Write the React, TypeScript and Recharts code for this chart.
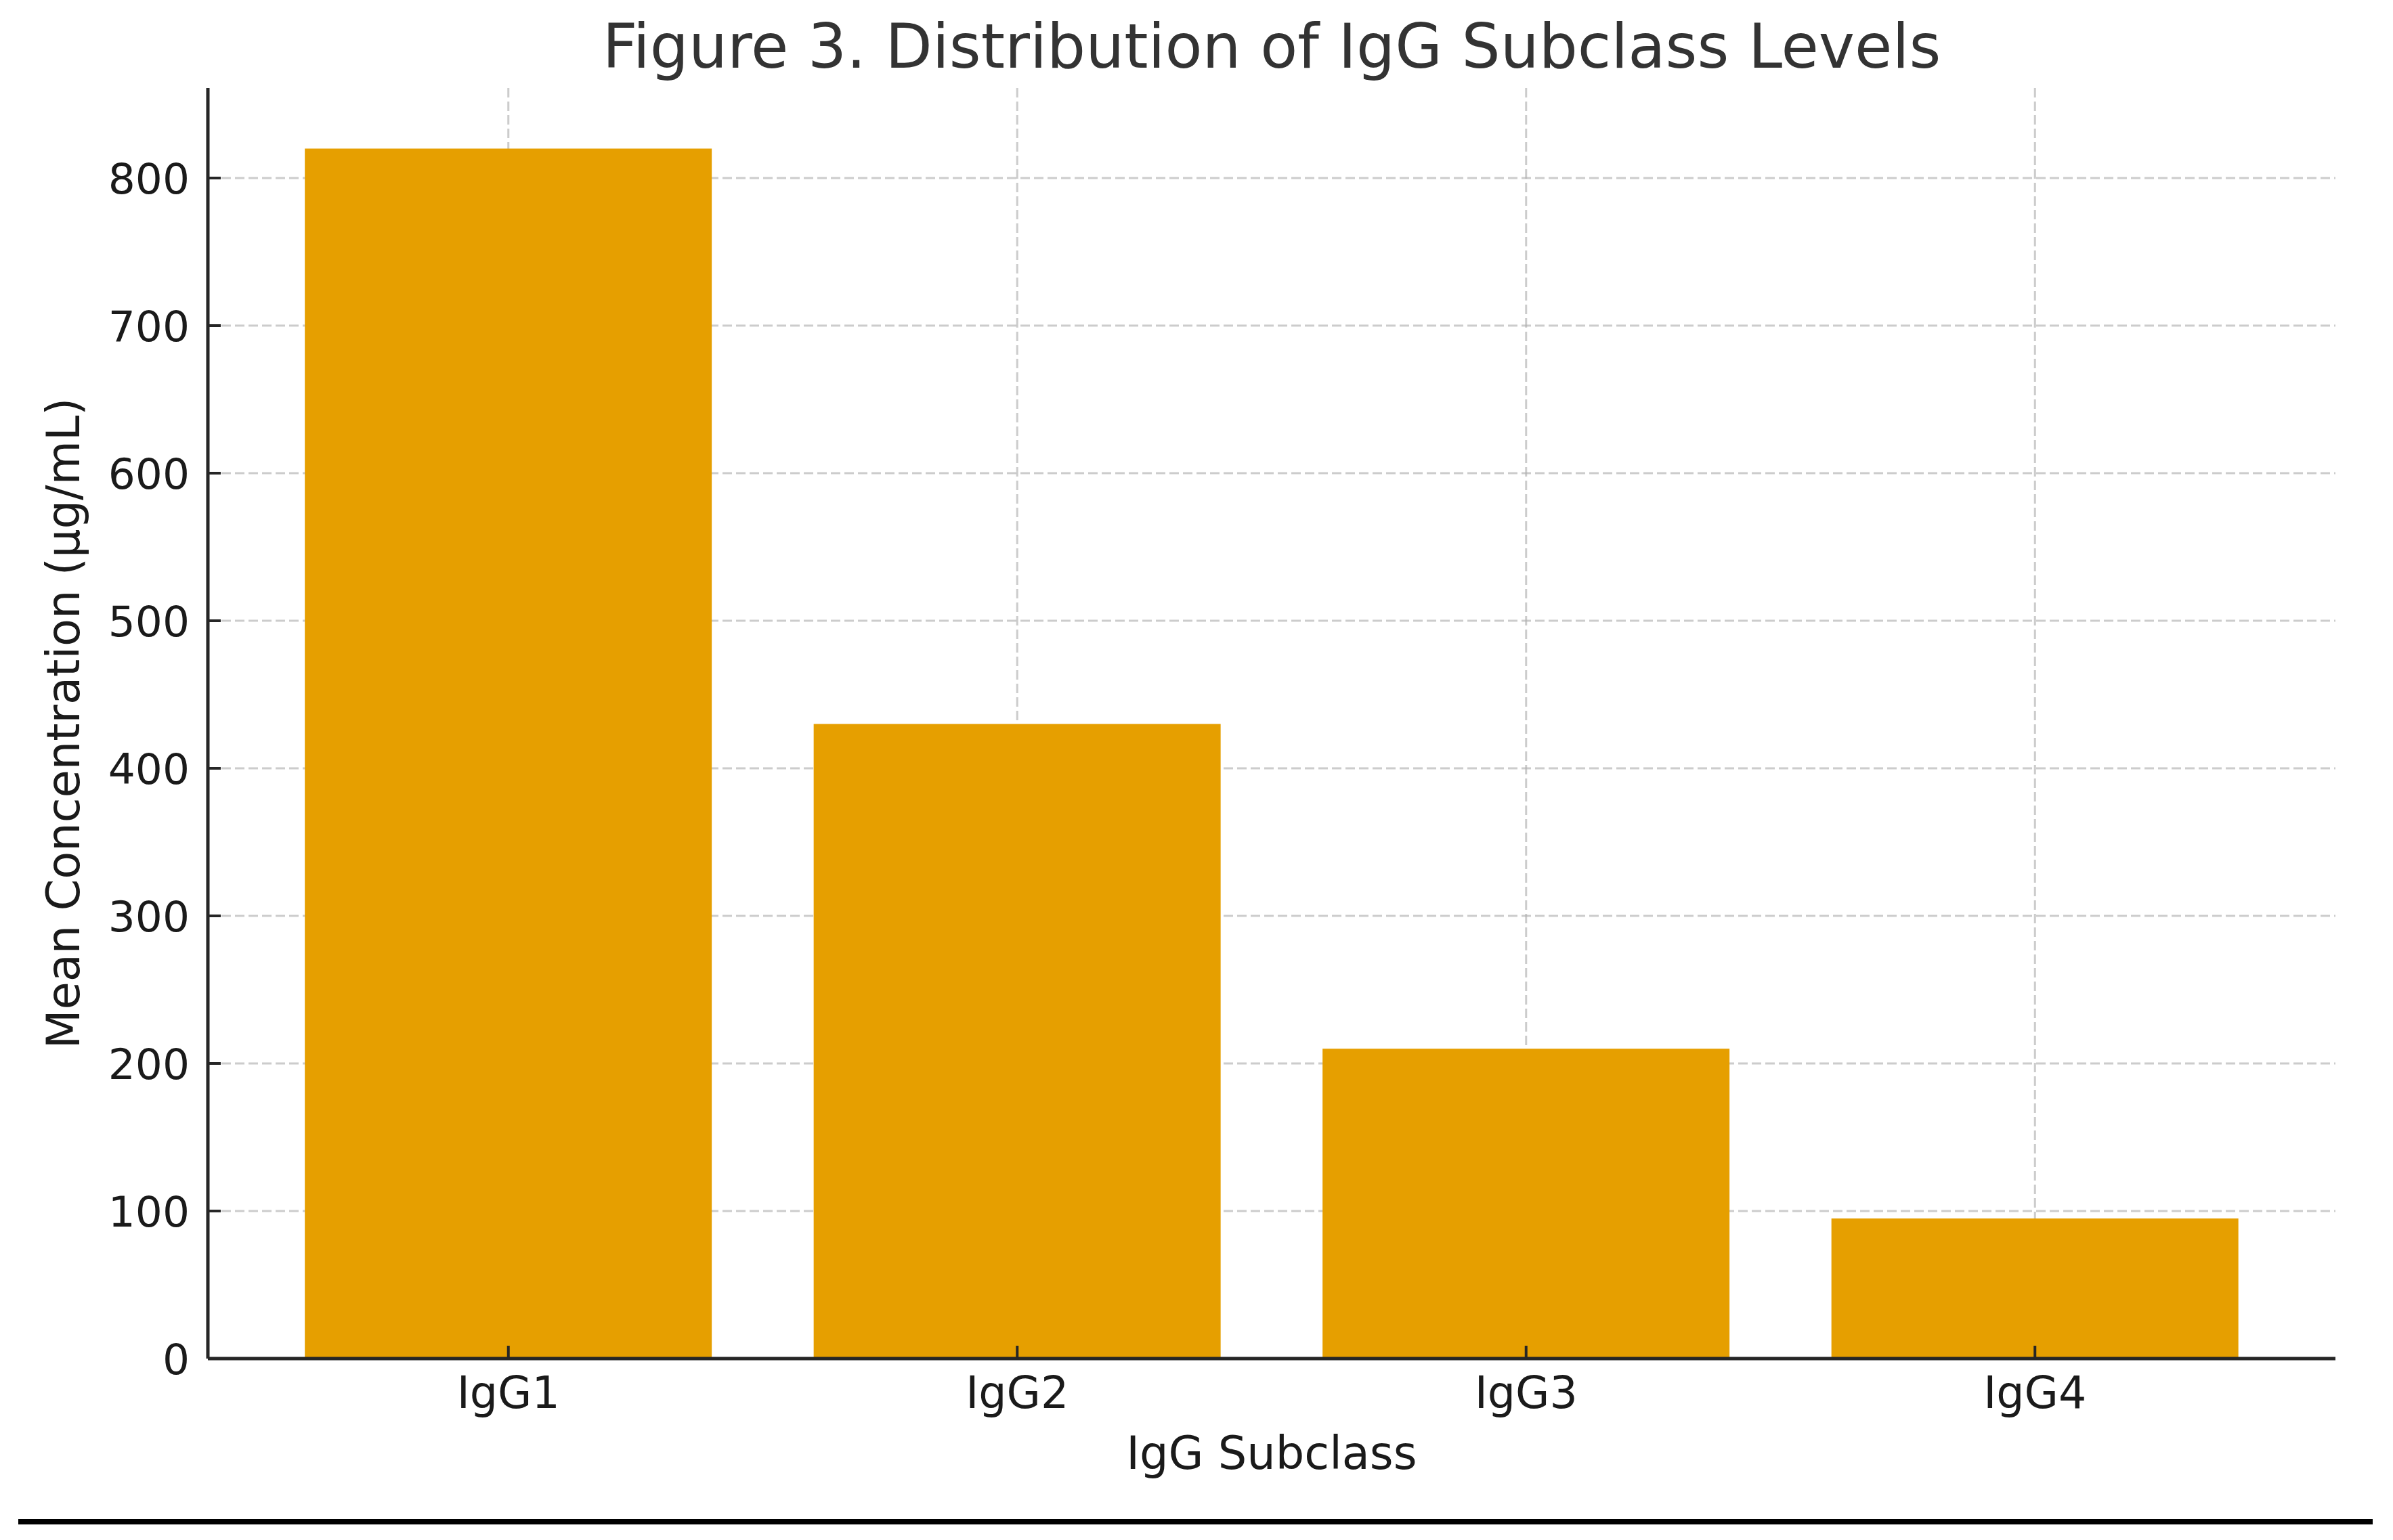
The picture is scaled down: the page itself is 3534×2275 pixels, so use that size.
import { BarChart, Bar, XAxis, YAxis, CartesianGrid } from "recharts";

const subclasses = ["IgG1", "IgG2", "IgG3", "IgG4"];
const meanConcentration = [820, 430, 210, 95];
const yTicks = [0, 100, 200, 300, 400, 500, 600, 700, 800];

const data = subclasses.map((name, i) => ({ name, value: meanConcentration[i] }));

const FONT = "'DejaVu Sans', sans-serif";
const AXIS = "#262626";

const YTick = (props: any) => {
    const { x, y, payload } = props;
    return (
        <g>
            <line x1={x} y1={y} x2={x + 19} y2={y} stroke={AXIS} strokeWidth={4} />
            <text x={x - 27} y={y} dy="0.36em" textAnchor="end" fontSize={63} fontFamily={FONT} fill="#1a1a1a">
                {payload.value}
            </text>
        </g>
    );
};

const XTick = (props: any) => {
    const { x, y, payload } = props;
    return (
        <g>
            <line x1={x} y1={y} x2={x} y2={y - 19} stroke={AXIS} strokeWidth={4} />
            <text x={x} y={y + 73} textAnchor="middle" fontSize={65} fontFamily={FONT} fill="#1a1a1a">
                {payload.value}
            </text>
        </g>
    );
};

const YLabel = (props: any) => {
    const { viewBox } = props;
    const x = viewBox.x + 97;
    const y = viewBox.y + viewBox.height / 2;
    return (
        <text x={x} y={y} transform={`rotate(-90, ${x}, ${y})`} textAnchor="middle" fontSize={67} fontFamily={FONT} fill="#1a1a1a">
            Mean Concentration (μg/mL)
        </text>
    );
};

const XLabel = (props: any) => {
    const { viewBox } = props;
    const x = viewBox.x + viewBox.width / 2;
    const y = viewBox.y + 163;
    return (
        <text x={x} y={y} textAnchor="middle" fontSize={67} fontFamily={FONT} fill="#1a1a1a">
            IgG Subclass
        </text>
    );
};

export default function App() {
    return (
        <div style={{ position: "absolute", left: 0, top: 0, width: 3534, height: 2275, background: "#fff" }}>
            <svg width={3534} height={2275} style={{ position: "absolute", left: 0, top: 0 }}>
                <text x={1878} y={100} textAnchor="middle" fontSize={90} fontFamily={FONT} fill="#333333">
                    Figure 3. Distribution of IgG Subclass Levels
                </text>
                <line x1={27} y1={2248} x2={3504} y2={2248} stroke="#000" strokeWidth={8} />
            </svg>
            <div style={{ position: "absolute", left: 0, top: 0 }}>
                <BarChart
                    width={3534}
                    height={2275}
                    data={data}
                    barCategoryGap="10%"
                    margin={{ top: 130, right: 85, bottom: 68, left: 20 }}
                >
                    <XAxis
                        dataKey="name"
                        height={200}
                        padding={{ left: 68, right: 68 }}
                        tickLine={false}
                        tickSize={0}
                        tickMargin={0}
                        axisLine={{ stroke: AXIS, strokeWidth: 5 }}
                        tick={<XTick />}
                        label={<XLabel />}
                    />
                    <YAxis
                        width={287}
                        domain={[0, 861]}
                        ticks={yTicks}
                        tickLine={false}
                        tickSize={0}
                        tickMargin={0}
                        axisLine={{ stroke: AXIS, strokeWidth: 5 }}
                        tick={<YTick />}
                        label={<YLabel />}
                    />
                    <Bar dataKey="value" fill="#E69F00" isAnimationActive={false} />
                    <CartesianGrid
                        syncWithTicks
                        stroke="#b0b0b0"
                        strokeOpacity={0.65}
                        strokeWidth={3}
                        strokeDasharray="14 6"
                    />
                </BarChart>
            </div>
        </div>
    );
}
